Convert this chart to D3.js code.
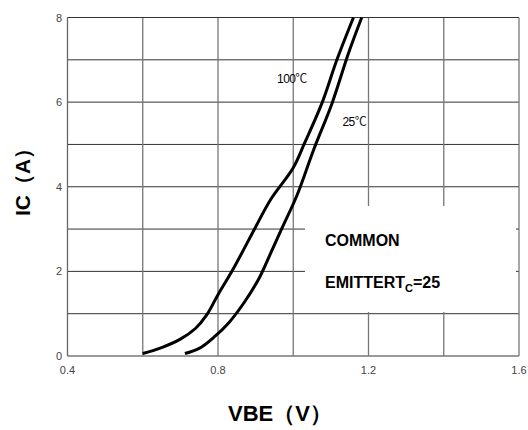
<!DOCTYPE html>
<html lang="en">
<head>
<meta charset="UTF-8">
<title>IC vs VBE</title>
<script src="https://d3js.org/d3.v7.min.js"></script>
<style>
  body { margin: 0; background: #fff; }
  text { font-family: "Liberation Sans", Arial, sans-serif; }
</style>
</head>
<body>
<script>
// data
var xTicks = [0.4, 0.8, 1.2, 1.6];
var yTicks = [0, 2, 4, 6, 8];
var xGrid = [0.6, 0.8, 1.0, 1.2, 1.4];
var yGrid = [1, 2, 3, 4, 5, 6, 7];

var vbe100 = [0.60, 0.65, 0.70, 0.74, 0.77, 0.80, 0.84, 0.90, 0.94, 1.00, 1.03, 1.076, 1.116, 1.16];
var ic100  = [0.06, 0.20, 0.40, 0.65, 0.97, 1.45, 2.05, 3.05, 3.70, 4.45, 5.03, 5.97, 7.00, 8.00];

var vbe25 = [0.712, 0.75, 0.79, 0.83, 0.87, 0.91, 0.94, 0.97, 1.01, 1.054, 1.103, 1.147, 1.182];
var ic25  = [0.06, 0.18, 0.45, 0.80, 1.27, 1.85, 2.43, 3.02, 3.80, 4.87, 5.97, 7.16, 8.00];

var labels = [{t: "100", v: 0.957, i: 6.45}, {t: "25", v: 1.131, i: 5.43}];

var w = 528, h = 430;
var pLeft = 67.5, pRight = 519, pTop = 17.5, pBottom = 356;

var x = d3.scaleLinear().domain([0.4, 1.6]).range([pLeft, pRight]);
var y = d3.scaleLinear().domain([0, 8]).range([pBottom, pTop]);

var svg = d3.select("body").append("svg").attr("width", w).attr("height", h);

// grid
svg.selectAll("line.hg").data(yGrid).enter().append("line")
  .attr("x1", pLeft).attr("x2", pRight)
  .attr("y1", function(d){ return y(d); }).attr("y2", function(d){ return y(d); })
  .attr("stroke", "#333").attr("stroke-width", 1);
svg.selectAll("line.vg").data(xGrid).enter().append("line")
  .attr("x1", function(d){ return x(d); }).attr("x2", function(d){ return x(d); })
  .attr("y1", pTop).attr("y2", pBottom)
  .attr("stroke", "#777").attr("stroke-width", 1.3);

// frame
svg.append("line").attr("x1", pLeft).attr("x2", pRight).attr("y1", pTop).attr("y2", pTop).attr("stroke", "#333");
svg.append("line").attr("x1", pLeft).attr("x2", pLeft).attr("y1", pTop).attr("y2", pBottom).attr("stroke", "#666").attr("stroke-width", 1.3);
svg.append("line").attr("x1", pRight).attr("x2", pRight).attr("y1", pTop).attr("y2", pBottom).attr("stroke", "#777").attr("stroke-width", 1.3);
svg.append("line").attr("x1", pLeft).attr("x2", pRight).attr("y1", pBottom).attr("y2", pBottom).attr("stroke", "#777").attr("stroke-width", 1.3);

// note box
svg.append("rect").attr("x", 305).attr("y", 206).attr("width", 211).attr("height", 106).attr("fill", "#fff");
svg.append("text").attr("x", 325).attr("y", 246).attr("font-size", 16).attr("font-weight", "bold").text("COMMON");
var t2 = svg.append("text").attr("x", 325).attr("y", 288).attr("font-size", 16).attr("font-weight", "bold");
t2.append("tspan").text("EMITTERT");
t2.append("tspan").attr("font-size", 11).attr("dy", 4).text("C");
t2.append("tspan").attr("dy", -4).text("=25");

// curves
var line = d3.line().curve(d3.curveCatmullRom.alpha(0.5));
svg.append("path")
  .attr("d", line(vbe100.map(function(v, i){ return [x(v), y(ic100[i])]; })))
  .attr("fill", "none").attr("stroke", "#000").attr("stroke-width", 3);
svg.append("path")
  .attr("d", line(vbe25.map(function(v, i){ return [x(v), y(ic25[i])]; })))
  .attr("fill", "none").attr("stroke", "#000").attr("stroke-width", 3);

// curve labels
labels.forEach(function(l){
  var t = svg.append("text").attr("x", x(l.v)).attr("y", y(l.i)).attr("font-size", 12).attr("letter-spacing", -0.6);
  t.append("tspan").text(l.t);
  t.append("tspan").attr("font-family", "'Noto Sans CJK SC'").attr("font-size", 12).attr("fill", "#222").text("℃");
});

// tick labels
svg.selectAll("text.yt").data(yTicks).enter().append("text")
  .attr("x", 62).attr("y", function(d){ return y(d) + 4; })
  .attr("text-anchor", "end").attr("font-size", 11).attr("fill", "#444")
  .text(function(d){ return d; });
svg.selectAll("text.xt").data(xTicks).enter().append("text")
  .attr("x", function(d){ return x(d); }).attr("y", 374)
  .attr("text-anchor", "middle").attr("font-size", 11).attr("fill", "#444")
  .text(function(d){ return d.toFixed(1); });

// axis titles
svg.append("text").attr("x", 280).attr("y", 421).attr("text-anchor", "middle")
  .attr("font-size", 22).attr("font-weight", "bold").text("VBE（V）");
svg.append("text").attr("transform", "translate(30,177) rotate(-90)").attr("text-anchor", "middle")
  .attr("font-size", 21).attr("font-weight", "bold").text("IC（A）");
</script>
</body>
</html>
